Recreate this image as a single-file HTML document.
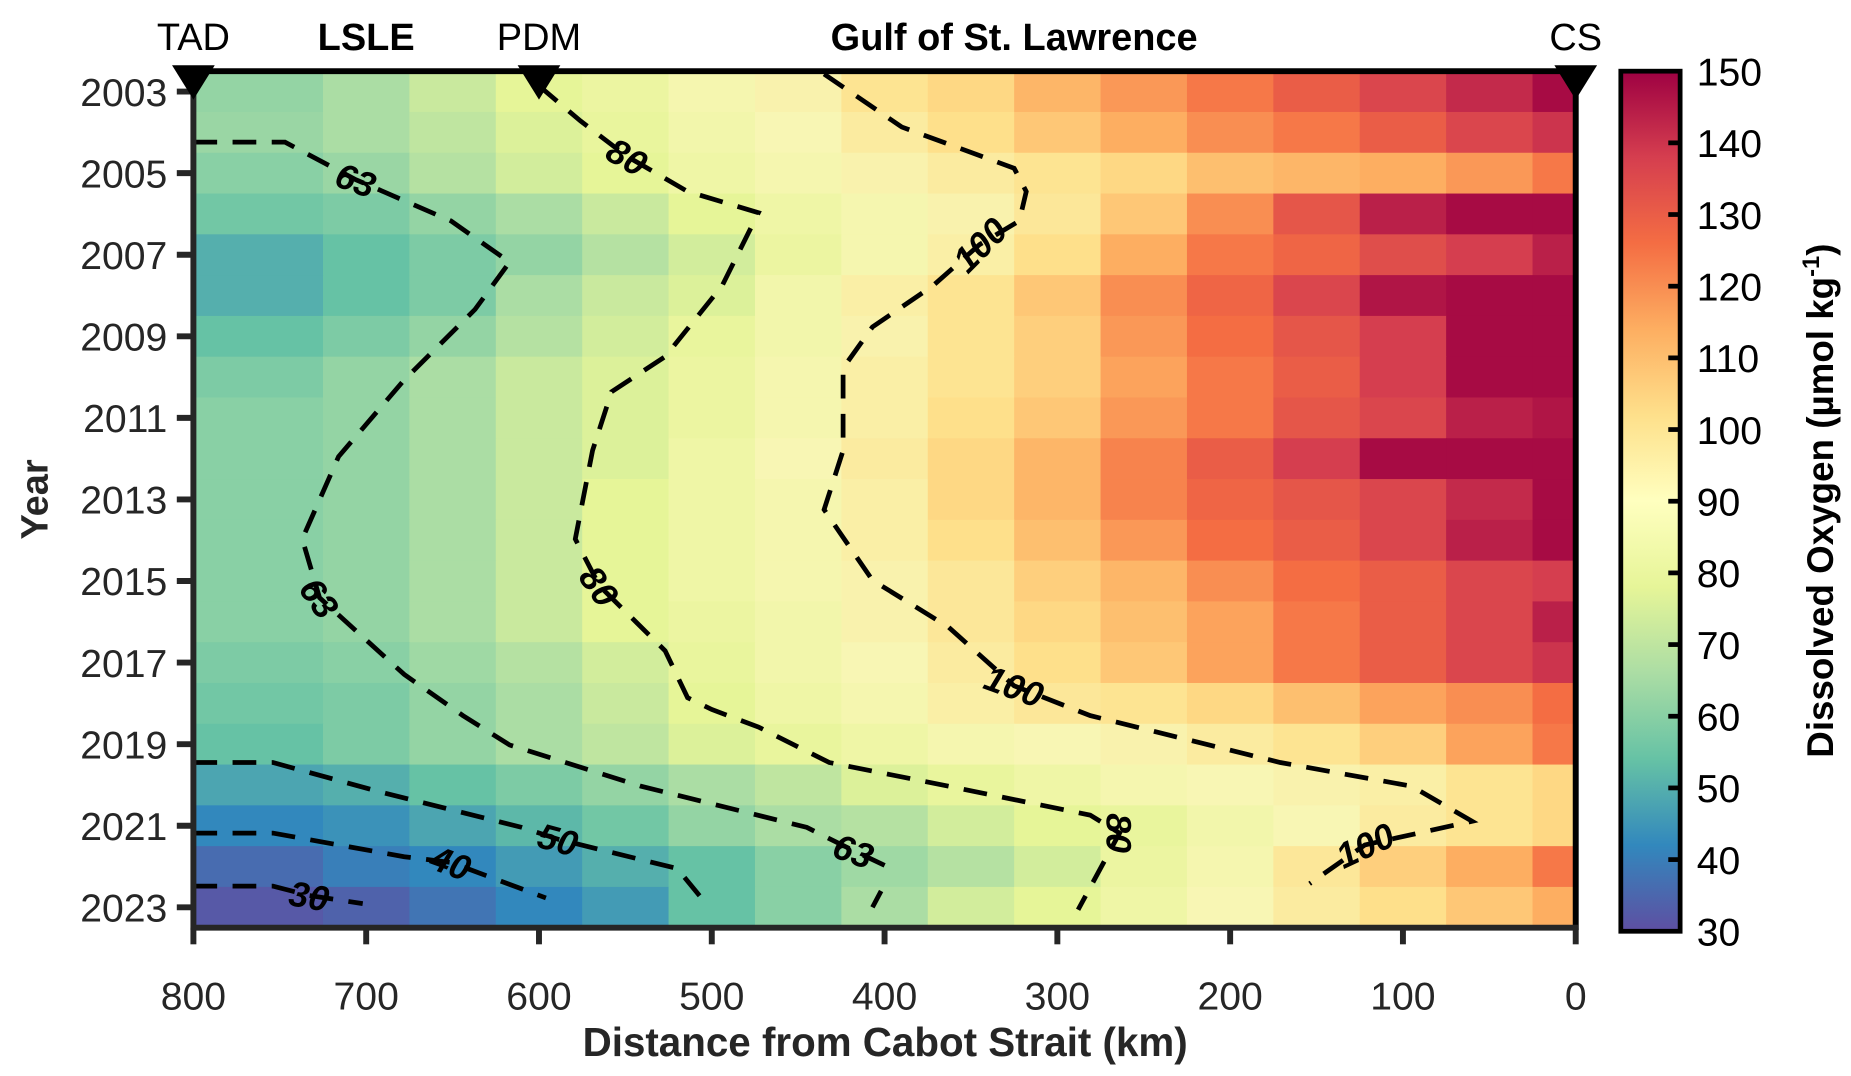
<!DOCTYPE html>
<html><head><meta charset="utf-8"><style>
html,body{margin:0;padding:0;background:#fff;}
svg{display:block;font-family:"Liberation Sans",Arial,sans-serif;}
</style></head><body>
<svg id="chart" width="1851" height="1076" viewBox="0 0 1560 907" preserveAspectRatio="none" xmlns="http://www.w3.org/2000/svg">
<defs>
<linearGradient id="cbgrad" x1="0" y1="1" x2="0" y2="0">
<stop offset="0" stop-color="#5e4fa2"/><stop offset="0.1" stop-color="#3288bd"/><stop offset="0.2" stop-color="#66c2a5"/><stop offset="0.3" stop-color="#abdda4"/><stop offset="0.4" stop-color="#e6f598"/><stop offset="0.5" stop-color="#ffffbf"/><stop offset="0.6" stop-color="#fee08b"/><stop offset="0.7" stop-color="#fdae61"/><stop offset="0.8" stop-color="#f46d43"/><stop offset="0.9" stop-color="#d53e4f"/><stop offset="1" stop-color="#9e0142"/>
</linearGradient>
</defs>
<g id="cells"></g>
<g id="contours"></g>
<g id="axes"></g>
</svg>
<script>
const years=[2003,2004,2005,2006,2007,2008,2009,2010,2011,2012,2013,2014,2015,2016,2017,2018,2019,2020,2021,2022,2023];
const colEdges=[800,725,675,625,575,525,475,425,375,325,275,225,175,125,75,25,0];
const oxygen=[
[62,66,72,78,82,88,92,100,104,112,118,124,130,136,142,148],
[63,66,70,76,80,86,90,96,102,108,114,120,124,130,136,140],
[60,63,68,74,78,84,88,92,96,100,104,110,112,114,118,124],
[56,58,62,66,72,78,84,88,92,98,108,120,132,144,148,148],
[50,54,58,62,68,74,82,88,94,102,114,124,128,134,138,144],
[50,54,58,66,72,76,86,94,100,108,120,128,136,146,148,148],
[54,58,62,68,74,80,86,92,100,106,118,126,132,138,148,148],
[58,62,66,72,76,82,88,94,100,106,116,124,130,138,148,148],
[60,62,66,72,76,82,88,94,102,108,118,124,132,136,144,146],
[60,62,66,72,76,84,90,96,104,112,122,130,138,148,148,148],
[60,62,66,72,78,84,88,94,104,112,122,128,132,136,142,148],
[60,62,66,72,78,84,88,94,102,110,118,126,130,136,144,148],
[60,62,66,72,78,84,88,92,98,106,112,120,126,130,136,138],
[60,62,66,72,78,82,86,92,98,104,110,116,124,130,136,144],
[58,60,64,68,74,80,86,90,96,102,108,116,124,130,136,140],
[56,58,62,66,72,78,84,88,94,98,100,104,110,116,120,126],
[54,58,62,66,70,76,80,84,88,90,92,96,100,106,116,124],
[48,50,54,58,62,66,70,76,80,84,88,90,92,94,100,104],
[42,44,48,52,56,62,66,68,74,78,80,86,90,96,100,104],
[36,40,42,46,50,54,60,64,68,74,82,88,98,106,114,124],
[32,34,38,42,46,54,60,66,74,78,84,90,96,102,108,114]];
const c30=[[800,2022.48],[754,2022.48],[733,2022.71],[702,2022.91]];
const c40=[[800,2021.18],[754,2021.18],[678,2021.76],[651,2021.9],[596,2022.77]];
const c50=[[800,2019.45],[754,2019.45],[692,2020.17],[610,2021.04],[589,2021.33],[520,2022.05],[506,2022.77]];
const c63a=[[800,2004.24],[747,2004.24],[706,2005.16],[651,2006.17],[617,2007.18],[637,2008.34],[678,2010.07],[716,2011.95],[737,2013.97],[727,2015.41],[678,2017.29],[644,2018.3],[617,2019.02],[541,2020.03],[445,2021.04],[418,2021.61],[396,2022.05]];
const c63b=[[402,2022.6],[407,2023.0]];
const c80=[[600,2002.86],[576,2003.72],[549,2004.59],[514,2005.45],[473,2005.97],[494,2007.76],[527,2009.5],[558,2010.36],[569,2011.8],[579,2013.97],[565,2015.12],[527,2016.71],[514,2017.86],[500,2018.15],[473,2018.58],[432,2019.45],[363,2020.03],[281,2020.74],[264,2021.18],[288,2023.06]];
const c100=[[435,2002.57],[390,2003.87],[325,2004.88],[318,2005.45],[322,2006.17],[345,2006.75],[372,2007.76],[407,2008.77],[424,2009.78],[424,2011.8],[435,2013.25],[407,2014.98],[363,2016.13],[325,2017.57],[281,2018.3],[171,2019.45],[95,2020.03],[60,2020.89],[122,2021.47],[154,2022.42]];
const contourLabels=[["63",706,2005.16,20],["63",727,2015.41,55],["80",549,2004.59,30],["80",565,2015.12,55],["100",345,2006.75,-45],["100",325,2017.57,20],["100",122,2021.47,-25],["80",264,2021.18,90],["63",418,2021.61,20],["50",589,2021.33,15],["40",651,2021.9,20],["30",733,2022.71,10]];
const xTicks=[800,700,600,500,400,300,200,100,0];
const yTicks=[2003,2005,2007,2009,2011,2013,2015,2017,2019,2021,2023];
const cbTicks=[30,40,50,60,70,80,90,100,110,120,130,140,150];
const markers=[["TAD",800,true],["PDM",600,true],["CS",0,true],["LSLE",700,false],["Gulf of St. Lawrence",325,false]];

const X0=163,X1=1328,Y0=60,Y1=782;
const x=km=>X0+(800-km)/800*(X1-X0);
const rowH=(Y1-Y0)/years.length;
const y=yr=>Y0+(yr-years[0]+0.5)*rowH;
const CB0=785,CB1=60;
const cbY=v=>CB0+(v-30)/120*(CB1-CB0);
const stops=["#5e4fa2","#3288bd","#66c2a5","#abdda4","#e6f598","#f8f6b4","#fee08b","#fdae61","#f46d43","#d53e4f","#9e0142"];
function hex(h){return [1,3,5].map(i=>parseInt(h.substr(i,2),16));}
function cmap(v){let t=Math.max(0,Math.min(1,(v-30)/120))*10;let i=Math.min(9,Math.floor(t));let f=t-i;let a=hex(stops[i]),b=hex(stops[i+1]);return "rgb("+a.map((c,k)=>Math.round(c+(b[k]-c)*f)).join(",")+")";}
const NS="http://www.w3.org/2000/svg";
function mk(tag,attrs,parent,txt){const e=document.createElementNS(NS,tag);for(const k in attrs)e.setAttribute(k,attrs[k]);if(txt!==undefined)e.textContent=txt;parent.appendChild(e);return e;}
const cells=document.getElementById('cells'),cont=document.getElementById('contours'),axes=document.getElementById('axes');
oxygen.forEach((row,r)=>{row.forEach((v,c)=>{
const xa=x(colEdges[c]),xb=x(colEdges[c+1]);
const e=mk('rect',{x:xa,y:Y0+r*rowH,width:xb-xa+0.6,height:rowH+0.6,fill:cmap(v)},cells);


});});
[c30,c40,c50,c63a,c63b,c80,c100].forEach(line=>{
const e=mk('polyline',{points:line.map(p=>x(p[0])+","+y(p[1])).join(" "),fill:"none",stroke:"#000","stroke-width":4,"stroke-dasharray":"20 13"},cont);


});
contourLabels.forEach(l=>{
const px=x(l[1]),py=y(l[2]);
const t=mk('text',{x:px,y:py+11,"text-anchor":"middle","font-size":30,"font-weight":"bold","font-style":"italic",transform:"rotate("+l[3]+" "+px+" "+py+")"},cont,l[0]);


});
let e;
e=mk('line',{x1:X0-2,y1:Y0,x2:X1+2,y2:Y0,stroke:"#000","stroke-width":5},axes);
e=mk('line',{x1:X1,y1:Y0,x2:X1,y2:Y1+2,stroke:"#000","stroke-width":5},axes);
e=mk('line',{x1:X0,y1:Y0,x2:X0,y2:Y1+2,stroke:"#262626","stroke-width":5},axes);
e=mk('line',{x1:X0-2,y1:Y1,x2:X1+2,y2:Y1,stroke:"#262626","stroke-width":5},axes);
xTicks.forEach(k=>{
mk('line',{x1:x(k),y1:Y1,x2:x(k),y2:Y1+14,stroke:"#262626","stroke-width":5},axes);
const t=mk('text',{x:x(k),y:Y1+69,"text-anchor":"middle","font-size":33,fill:"#262626"},axes,String(k));


});
yTicks.forEach(yr=>{
mk('line',{x1:X0-14,y1:y(yr),x2:X0,y2:y(yr),stroke:"#262626","stroke-width":5},axes);
const t=mk('text',{x:X0-22,y:y(yr)+12,"text-anchor":"end","font-size":33,fill:"#262626"},axes,String(yr));


});
e=mk('text',{x:746,y:890,"text-anchor":"middle","font-size":34,"font-weight":"bold",fill:"#262626"},axes,"Distance from Cabot Strait (km)");
e=mk('text',{x:40,y:421,"text-anchor":"middle","font-size":32,"font-weight":"bold",fill:"#262626",transform:"rotate(-90 40 421)"},axes,"Year");
markers.forEach(m=>{
const px=x(m[1]);
if(m[2]){const tri=mk('polygon',{points:(px-18)+",55 "+(px+18)+",55 "+px+",84",fill:"#000"},axes);

}
const t=mk('text',{x:px,y:42,"text-anchor":"middle","font-size":32,"font-weight":m[2]?"normal":"bold",fill:"#000"},axes,m[0]);


});
e=mk('rect',{x:1366,y:CB1,width:50,height:CB0-CB1,fill:"url(#cbgrad)",stroke:"#000","stroke-width":4},axes);
cbTicks.forEach(v=>{
if(v>30&&v<150)mk('line',{x1:1406,y1:cbY(v),x2:1416,y2:cbY(v),stroke:"#000","stroke-width":4},axes);
const t=mk('text',{x:1430,y:cbY(v)+12,"font-size":33,fill:"#000"},axes,String(v));


});
e=mk('text',{x:1545,y:422,"text-anchor":"middle","font-size":31,"font-weight":"bold",fill:"#000",transform:"rotate(-90 1545 422)"},axes);

e.innerHTML='Dissolved Oxygen (µmol kg<tspan dy="-12" font-size="20">-1</tspan><tspan dy="12">)</tspan>';
</script>
</body></html>
